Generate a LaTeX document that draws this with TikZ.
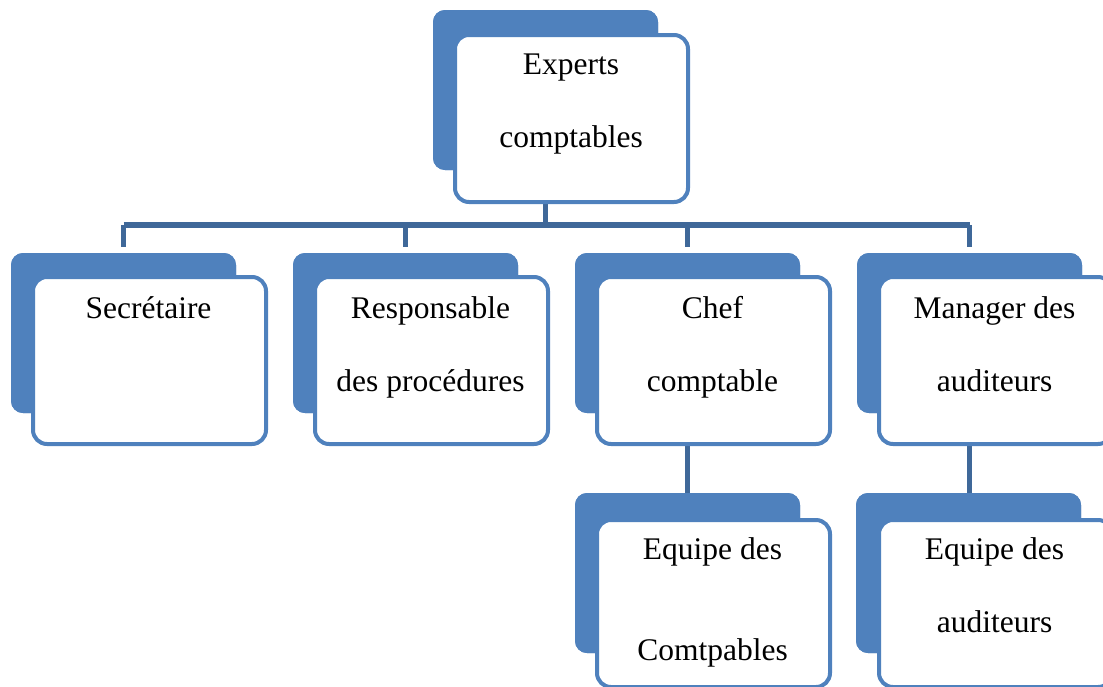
\documentclass[tikz,border=0pt]{standalone}
\usepackage{fontspec}
\setmainfont{Liberation Serif}
\definecolor{bblue}{HTML}{4F81BD}
\definecolor{cblue}{HTML}{3F6899}
\begin{document}
\begin{tikzpicture}[x=1pt,y=-1pt,
  backbox/.style={fill=bblue, draw=none, rounded corners=12pt, inner sep=0pt, outer sep=0pt,
    minimum width=225pt, minimum height=160pt, anchor=north west},
  frontbox/.style={fill=white, draw=bblue, line width=4pt, rounded corners=14pt, inner sep=0pt, outer sep=0pt,
    minimum width=233pt, minimum height=167pt, anchor=north west},
  conn/.style={draw=cblue, line width=5.5pt},
  lbl/.style={anchor=base, inner sep=0pt, font=\fontsize{31.5pt}{38pt}\selectfont}]
\clip (0,0) rectangle (1103,686);
\useasboundingbox (0,0) rectangle (1103,686);
% geometry (back boxes first, used for connector anchors)
\node[backbox] (b0) at (433,10) {};
\node[backbox] (b1) at (11,253) {};
\node[backbox] (b2) at (293,253) {};
\node[backbox] (b3) at (575,253) {};
\node[backbox] (b4) at (857,253) {};
\node[backbox] (b5) at (575,493) {};
\node[backbox] (b6) at (856,493) {};
\coordinate (hub) at (545.5,225);
% connectors
\draw[conn] (b0.south) -- (b0.south |- hub);
\draw[conn] (b1.north |- hub) -- (b4.north |- hub);
\foreach \i in {1,2,3,4}{
  \draw[conn, shorten >=6pt] (b\i.north |- hub) -- (b\i.north);
}
\draw[conn] (b3.south) -- (b3.south |- b5.north);
\draw[conn] (b4.south) -- (b4.south |- b6.north);
% redraw back boxes on top of connectors
\foreach \x/\y in {433/10,11/253,293/253,575/253,857/253,575/493,856/493}{
  \node[backbox] at (\x,\y) {};
}
% front boxes
\node[frontbox] (f0) at (455,35) {};
\node[frontbox] (f1) at (33,277) {};
\node[frontbox] (f2) at (315,277) {};
\node[frontbox] (f3) at (597,277) {};
\node[frontbox] (f4) at (879,277) {};
\node[frontbox] (f5) at (597,520) {};
\node[frontbox] (f6) at (879,520) {};
% labels
\node[lbl] (t0a) at (571,74) {Experts};
\node[lbl] (t0b) at (571,147) {comptables};
\node[lbl] (t1a) at (148.5,318) {Secrétaire};
\node[lbl] (t2a) at (430.5,318) {Responsable};
\node[lbl] (t2b) at (430.5,391) {des procédures};
\node[lbl] (t3a) at (712.5,318) {Chef};
\node[lbl] (t3b) at (712.5,391) {comptable};
\node[lbl] (t4a) at (994.5,318) {Manager des};
\node[lbl] (t4b) at (994.5,391) {auditeurs};
\node[lbl] (t5a) at (712.5,559) {Equipe des};
\node[lbl] (t5b) at (712.5,660) {Comtpables};
\node[lbl] (t6a) at (994.5,559) {Equipe des};
\node[lbl] (t6b) at (994.5,632) {auditeurs};
\end{tikzpicture}
\end{document}
